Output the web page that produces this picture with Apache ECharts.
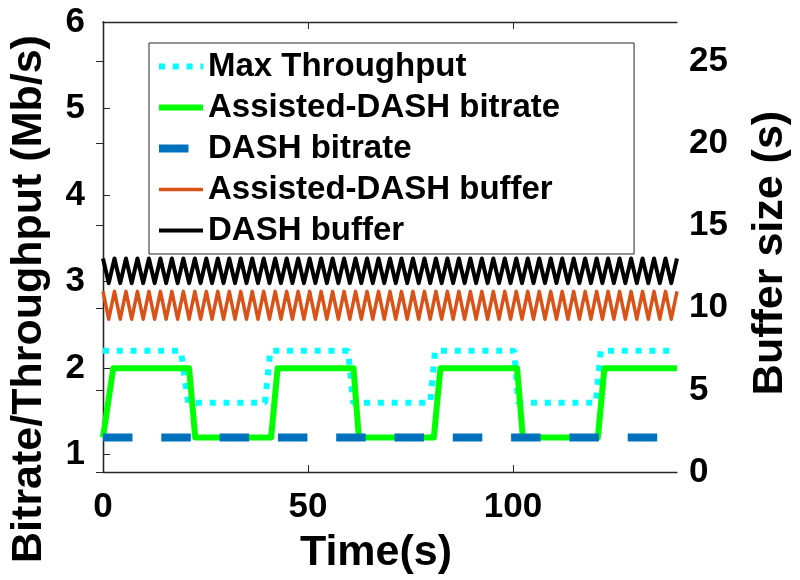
<!DOCTYPE html>
<html>
<head>
<meta charset="utf-8">
<title>Bitrate / buffer over time</title>
<script src="https://cdn.jsdelivr.net/npm/echarts@6/dist/echarts.min.js"></script>
<style>
  html, body { margin: 0; padding: 0; background: #fff; }
  #chart { width: 800px; height: 580px; }
</style>
</head>
<body>
<div id="chart"></div>
<script>
var xTicks = [0, 50, 100]
var leftTicks = [1, 2, 3, 4, 5, 6]
var rightTicks = [0, 5, 10, 15, 20, 25]

// Max Throughput (Mb/s)
var throughputTime = [0, 19, 20.8, 39.5, 40.8, 59.8, 61, 79.8, 81, 100.3, 101.3, 120.2, 121.4, 140]
var throughputValue = [2.2, 2.2, 1.6, 1.6, 2.2, 2.2, 1.6, 1.6, 2.2, 2.2, 1.6, 1.6, 2.2, 2.2]

// Assisted-DASH bitrate (Mb/s)
var assistedTime = [0, 2.5, 21, 22.5, 41, 42.6, 61.1, 62.4, 80.7, 82.3, 101, 102.4, 120.7, 122.3, 140]
var assistedRate = [1.2, 2.0, 2.0, 1.2, 1.2, 2.0, 2.0, 1.2, 1.2, 2.0, 2.0, 1.2, 1.2, 2.0, 2.0]

// DASH bitrate (Mb/s)
var dashTime = [0, 140]
var dashRate = [1.2, 1.2]

// buffer sizes (s), sampled at each peak / trough
var bufferTime = [
  0, 1.4, 2.8, 4.2, 5.6, 7, 8.4, 9.8, 11.2, 12.6,
  14, 15.4, 16.8, 18.2, 19.6, 21, 22.4, 23.8, 25.2, 26.6,
  28, 29.4, 30.8, 32.2, 33.6, 35, 36.4, 37.8, 39.2, 40.6,
  42, 43.4, 44.8, 46.2, 47.6, 49, 50.4, 51.8, 53.2, 54.6,
  56, 57.4, 58.8, 60.2, 61.6, 63, 64.4, 65.8, 67.2, 68.6,
  70, 71.4, 72.8, 74.2, 75.6, 77, 78.4, 79.8, 81.2, 82.6,
  84, 85.4, 86.8, 88.2, 89.6, 91, 92.4, 93.8, 95.2, 96.6,
  98, 99.4, 100.8, 102.2, 103.6, 105, 106.4, 107.8, 109.2, 110.6,
  112, 113.4, 114.8, 116.2, 117.6, 119, 120.4, 121.8, 123.2, 124.6,
  126, 127.4, 128.8, 130.2, 131.6, 133, 134.4, 135.8, 137.2, 138.6,
  140
]
var assistedBuffer = [
  11.0, 9.3, 11.0, 9.3, 11.0, 9.3, 11.0, 9.3, 11.0, 9.3,
  11.0, 9.3, 11.0, 9.3, 11.0, 9.3, 11.0, 9.3, 11.0, 9.3,
  11.0, 9.3, 11.0, 9.3, 11.0, 9.3, 11.0, 9.3, 11.0, 9.3,
  11.0, 9.3, 11.0, 9.3, 11.0, 9.3, 11.0, 9.3, 11.0, 9.3,
  11.0, 9.3, 11.0, 9.3, 11.0, 9.3, 11.0, 9.3, 11.0, 9.3,
  11.0, 9.3, 11.0, 9.3, 11.0, 9.3, 11.0, 9.3, 11.0, 9.3,
  11.0, 9.3, 11.0, 9.3, 11.0, 9.3, 11.0, 9.3, 11.0, 9.3,
  11.0, 9.3, 11.0, 9.3, 11.0, 9.3, 11.0, 9.3, 11.0, 9.3,
  11.0, 9.3, 11.0, 9.3, 11.0, 9.3, 11.0, 9.3, 11.0, 9.3,
  11.0, 9.3, 11.0, 9.3, 11.0, 9.3, 11.0, 9.3, 11.0, 9.3,
  11.0
]
var dashBuffer = [
  13.0, 11.5, 13.0, 11.5, 13.0, 11.5, 13.0, 11.5, 13.0, 11.5,
  13.0, 11.5, 13.0, 11.5, 13.0, 11.5, 13.0, 11.5, 13.0, 11.5,
  13.0, 11.5, 13.0, 11.5, 13.0, 11.5, 13.0, 11.5, 13.0, 11.5,
  13.0, 11.5, 13.0, 11.5, 13.0, 11.5, 13.0, 11.5, 13.0, 11.5,
  13.0, 11.5, 13.0, 11.5, 13.0, 11.5, 13.0, 11.5, 13.0, 11.5,
  13.0, 11.5, 13.0, 11.5, 13.0, 11.5, 13.0, 11.5, 13.0, 11.5,
  13.0, 11.5, 13.0, 11.5, 13.0, 11.5, 13.0, 11.5, 13.0, 11.5,
  13.0, 11.5, 13.0, 11.5, 13.0, 11.5, 13.0, 11.5, 13.0, 11.5,
  13.0, 11.5, 13.0, 11.5, 13.0, 11.5, 13.0, 11.5, 13.0, 11.5,
  13.0, 11.5, 13.0, 11.5, 13.0, 11.5, 13.0, 11.5, 13.0, 11.5,
  13.0
]

var FONT = '"Liberation Sans", Arial, Helvetica, sans-serif'
var AXIS_COLOR = '#262626'

function pairs(xs, ys) {
  return xs.map(function (x, i) { return [x, ys[i]] })
}

var chart = echarts.init(document.getElementById('chart'))

chart.setOption({
  animation: false,
  backgroundColor: '#fff',
  textStyle: { fontFamily: FONT },
  grid: {
    left: 101,
    right: 121,
    top: 22,
    bottom: 107
  },
  legend: {
    orient: 'vertical',
    left: 149,
    top: 43,
    padding: [7, 74, 7, 6],
    itemWidth: 44,
    itemHeight: 14,
    itemGap: 8,
    backgroundColor: '#fff',
    borderColor: AXIS_COLOR,
    borderWidth: 1,
    itemStyle: { opacity: 0 },
    lineStyle: { width: 'inherit' },
    textStyle: {
      fontSize: 33,
      fontWeight: 'bold',
      color: '#000',
      fontFamily: FONT
    },
    data: ['Max Throughput', 'Assisted-DASH bitrate', 'DASH bitrate', 'Assisted-DASH buffer', 'DASH buffer']
  },
  xAxis: [{
    type: 'value',
    min: 0,
    max: 140,
    name: 'Time(s)',
    nameLocation: 'middle',
    nameGap: 60,
    nameTextStyle: { fontSize: 43, fontWeight: 'bold', color: '#000', fontFamily: FONT, padding: [0, 28, 0, 0] },
    axisLine: { lineStyle: { color: AXIS_COLOR, width: 1.3 } },
    axisTick: { inside: true, length: 7, customValues: xTicks, lineStyle: { color: AXIS_COLOR } },
    axisLabel: { customValues: xTicks, margin: 18, fontSize: 35, fontWeight: 'bold', color: '#000', fontFamily: FONT },
    splitLine: { show: false }
  }, {
    type: 'value',
    position: 'top',
    min: 0,
    max: 140,
    axisLine: { lineStyle: { color: AXIS_COLOR, width: 1.3 } },
    axisTick: { inside: true, length: 7, customValues: xTicks, lineStyle: { color: AXIS_COLOR } },
    axisLabel: { show: false },
    splitLine: { show: false }
  }],
  yAxis: [{
    type: 'value',
    position: 'left',
    min: 0.8,
    max: 6,
    name: 'Bitrate/Throughput (Mb/s)',
    nameLocation: 'middle',
    nameGap: 52,
    nameTextStyle: { fontSize: 43, fontWeight: 'bold', color: '#000', fontFamily: FONT, padding: [0, 104, 0, 0] },
    axisLine: { show: true, lineStyle: { color: AXIS_COLOR, width: 1.3 } },
    axisTick: { inside: true, length: 7, customValues: leftTicks, lineStyle: { color: AXIS_COLOR } },
    axisLabel: { customValues: leftTicks, margin: 18, fontSize: 35, fontWeight: 'bold', color: '#000', fontFamily: FONT },
    splitLine: { show: false }
  }, {
    type: 'value',
    position: 'right',
    min: 0,
    max: 27.4,
    name: 'Buffer size (s)',
    nameLocation: 'middle',
    nameGap: 72,
    nameTextStyle: { fontSize: 43, fontWeight: 'bold', color: '#000', fontFamily: FONT, padding: [0, 12, 0, 0] },
    axisLine: { show: true, lineStyle: { color: AXIS_COLOR, width: 1.3 } },
    axisTick: { inside: true, length: 7, customValues: rightTicks, lineStyle: { color: AXIS_COLOR } },
    axisLabel: { customValues: rightTicks, margin: 12, fontSize: 35, fontWeight: 'bold', color: '#000', fontFamily: FONT },
    splitLine: { show: false }
  }],
  series: [{
    name: 'Max Throughput',
    type: 'line',
    yAxisIndex: 0,
    symbol: 'none',
    data: pairs(throughputTime, throughputValue),
    itemStyle: { color: '#00FFFF' },
    lineStyle: { color: '#00FFFF', width: 6, type: [6, 7.8] }
  }, {
    name: 'Assisted-DASH bitrate',
    type: 'line',
    yAxisIndex: 0,
    symbol: 'none',
    data: pairs(assistedTime, assistedRate),
    itemStyle: { color: '#00FF00' },
    lineStyle: { color: '#00FF00', width: 6, join: 'round' }
  }, {
    name: 'DASH bitrate',
    type: 'line',
    yAxisIndex: 0,
    symbol: 'none',
    data: pairs(dashTime, dashRate),
    itemStyle: { color: '#0072BD' },
    lineStyle: { color: '#0072BD', width: 8, type: [29.5, 28.8] }
  }, {
    name: 'Assisted-DASH buffer',
    type: 'line',
    yAxisIndex: 1,
    symbol: 'none',
    data: pairs(bufferTime, assistedBuffer),
    itemStyle: { color: '#D95319' },
    lineStyle: { color: '#D95319', width: 3.5, join: 'round' }
  }, {
    name: 'DASH buffer',
    type: 'line',
    yAxisIndex: 1,
    symbol: 'none',
    data: pairs(bufferTime, dashBuffer),
    itemStyle: { color: '#000' },
    lineStyle: { color: '#000', width: 4, join: 'round' }
  }]
})
</script>
</body>
</html>
